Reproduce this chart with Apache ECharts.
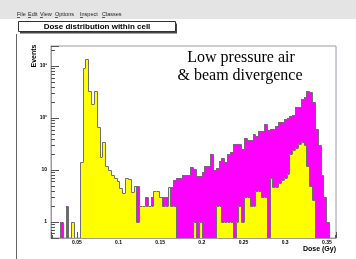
<!DOCTYPE html>
<html><head><meta charset="utf-8">
<script src="https://cdn.jsdelivr.net/npm/echarts@6/dist/echarts.min.js"></script>
<style>html,body{margin:0;padding:0;background:#fff}#c{width:356px;height:259px}</style>
</head><body><div id="c"></div>
<script>
// ---- data ----
const binStart = 0.0195;
const binWidth = 0.0034;
const yellowCounts = [
  0,0,0,0,0,0,0,1,0,0,
  14,900,1350,330,186,335,66,17.5,34,12,
  10,8,7,6,4.5,3.6,7,6.8,3.8,5,
  1,2,2,2,2,2,4,4,3,2,
  2,4.8,2,2,0,0,0,0,0,0,
  1,0,1,0,0,0,0,0,2,2,
  1,1,1,1,0,1,2,1,3,3,
  2,2,4,4,3,3,0,7,4.6,4.8,
  5.5,6.5,7,8.5,20,24,26,32,35,30,
  12,5,2.6,0,0,0,0,0,0,0
];
const magentaCounts = [
  0,0,0,1,0,2,0,0,0,0,
  0,0,0,0,0,0,0,0,0,0,
  0,0,0,0,0,0,0,0,0,0,
  5,2,2,3,2,3,3,3,3,3,
  3,4.8,4.8,6.4,7,7,8,8,8,11.5,
  10.5,7.5,7.5,9,12,12,20,10,11,15,
  17,14,20,22,31,31,31,25,42,38,
  38,49,46,57,57,76,60,62,62,70,
  83,85,95,100,110,115,160,165,230,250,
  330,320,200,62,30,8,3,1,0,0
];
const xTickLabels = ['0.05','0.1','0.15','0.2','0.25','0.3','0.35'];
const yTickLabels = {1:'1', 10:'10', 100:'10\u00b2', 1000:'10\u00b3'};
const yMinorTicks = [0.5,0.6,0.7,0.8,0.9,2,3,4,5,6,7,8,9,20,30,40,50,60,70,80,90,200,300,400,500,600,700,800,900,2000];
const menuItems = ['File','Edit','View','Options','Inspect','Classes'];
const titleText = 'Dose distribution within cell';
const annotationLines = ['Low pressure air','& beam divergence'];
const xName = 'Dose (Gy)';
const yName = 'Events';

// ---- layout ----
const menuX = [17, 28, 40, 55, 80, 102];
const OUTLINE = '#6e6e6e';
const FRAME = '#9a9aa6';

function toBins(counts){
  const d = [];
  counts.forEach((v,i)=>{ if(v>0) d.push([binStart+i*binWidth, binStart+(i+1)*binWidth, v, i]); });
  return d;
}
function histRenderer(counts, color){
  return function(params, api){
    const x0 = api.value(0), x1 = api.value(1), v = api.value(2), i = api.value(3);
    const cs = params.coordSys; const yb = cs.y + cs.height;
    const pA = api.coord([x0, v]), pB = api.coord([x1, v]);
    const L = Math.round(pA[0]), R = Math.round(pB[0]), T = Math.round(pA[1]);
    const prev = i>0 ? counts[i-1] : 0;
    const next = i<counts.length-1 ? counts[i+1] : 0;
    const prevY = prev>0 ? Math.round(api.coord([x0, prev])[1]) + 0.5 : yb;
    const pts = [[L+0.5, prevY],[L+0.5, T+0.5],[R+0.5, T+0.5]];
    if (!(next>0)) pts.push([R+0.5, yb]);
    return {type:'group', children:[
      {type:'rect', shape:{x:L, y:T, width:R-L, height:yb-T}, style:{fill:color}},
      {type:'polyline', shape:{points:pts}, style:{stroke:OUTLINE, lineWidth:1, fill:null}}
    ]};
  };
}

const chart = echarts.init(document.getElementById('c'), null, {renderer:'canvas'});
const graphics = [
  {type:'rect', shape:{x:0,y:0,width:356,height:19}, style:{fill:'#e4e4e4'}, z:-10},
  {type:'line', shape:{x1:16.5,y1:34,x2:16.5,y2:259}, style:{stroke:'#666', lineWidth:1}},
  {type:'rect', shape:{x:20,y:23.5,width:157,height:10}, style:{fill:'#444'}},
  {type:'rect', shape:{x:18.5,y:21.5,width:157,height:10}, style:{fill:'#fff', stroke:'#333', lineWidth:1}},
  {type:'text', x:97, y:27, style:{text:titleText, fill:'#000', fontSize:8, fontWeight:'bold', fontFamily:'Liberation Sans', align:'center', verticalAlign:'middle'}},
  {type:'text', x:241, y:58, style:{text:annotationLines[0], fill:'#000', fontSize:16, fontFamily:'Liberation Serif', align:'center', verticalAlign:'middle'}},
  {type:'text', x:240, y:76, style:{text:annotationLines[1], fill:'#000', fontSize:16, fontFamily:'Liberation Serif', align:'center', verticalAlign:'middle'}},
  {type:'text', x:336, y:249.5, style:{text:xName, fill:'#000', fontSize:7, fontWeight:'bold', fontFamily:'Liberation Sans', align:'right', verticalAlign:'middle'}},
  {type:'text', x:34.5, y:56, rotation:Math.PI/2, style:{text:yName, fill:'#000', fontSize:7, fontWeight:'bold', fontFamily:'Liberation Sans', align:'center', verticalAlign:'middle'}}
];
menuItems.forEach((m,k)=>{
  graphics.push({type:'text', x:menuX[k], y:14, style:{text:m, fill:'#222', fontSize:5.5, fontFamily:'Liberation Sans', align:'left', verticalAlign:'middle'}});
  graphics.push({type:'line', shape:{x1:menuX[k], y1:17.5, x2:menuX[k]+3, y2:17.5}, style:{stroke:'#222', lineWidth:0.7}});
});

chart.setOption({
  animation:false,
  backgroundColor:'#fff',
  grid:{left:51, top:46, right:20, bottom:21, show:true, borderColor:FRAME, borderWidth:1, backgroundColor:'#fff'},
  xAxis:{
    type:'value', min:0.019, max:0.361,
    axisLine:{show:true, lineStyle:{color:FRAME}},
    axisTick:{show:true, inside:true, length:6, lineStyle:{color:'#555'}},
    minorTick:{show:true, splitNumber:5, length:3, lineStyle:{color:'#555'}},
    splitLine:{show:false}, minorSplitLine:{show:false},
    axisLabel:{fontSize:5, fontWeight:'bold', fontFamily:'Liberation Sans', color:'#000', margin:2,
      formatter:(v)=>{ const k=Math.round(v/0.05); return (k>=1 && Math.abs(v-k*0.05)<1e-6) ? (xTickLabels[k-1]||'') : ''; }}
  },
  yAxis:{
    type:'log', logBase:10, min:0.49, max:2430,
    axisLine:{show:true, lineStyle:{color:FRAME}},
    axisTick:{show:true, inside:true, length:8, lineStyle:{color:'#555'}},
    splitLine:{show:false},
    axisLabel:{fontSize:5, fontWeight:'bold', fontFamily:'Liberation Sans', color:'#000', margin:4,
      formatter:(v)=> yTickLabels[Math.round(v)] || ''}
  },
  graphic: graphics,
  series:[
    {type:'custom', name:'magenta', clip:true, data:toBins(magentaCounts), renderItem:histRenderer(magentaCounts, '#ff00ff'), encode:{x:[0,1], y:2}, z:2},
    {type:'custom', name:'yellow', clip:true, data:toBins(yellowCounts), renderItem:histRenderer(yellowCounts, '#ffff00'), encode:{x:[0,1], y:2}, z:3},
    {type:'custom', name:'minorTicks', silent:true, data:yMinorTicks.map(v=>[v]), encode:{y:0},
      renderItem:(params, api)=>{
        const cs = params.coordSys; const y = Math.round(api.coord([0.2, api.value(0)])[1]) + 0.5;
        return {type:'line', shape:{x1:cs.x, y1:y, x2:cs.x+4, y2:y}, style:{stroke:'#555', lineWidth:1}};
      }, z:4}
  ]
});
</script></body></html>
